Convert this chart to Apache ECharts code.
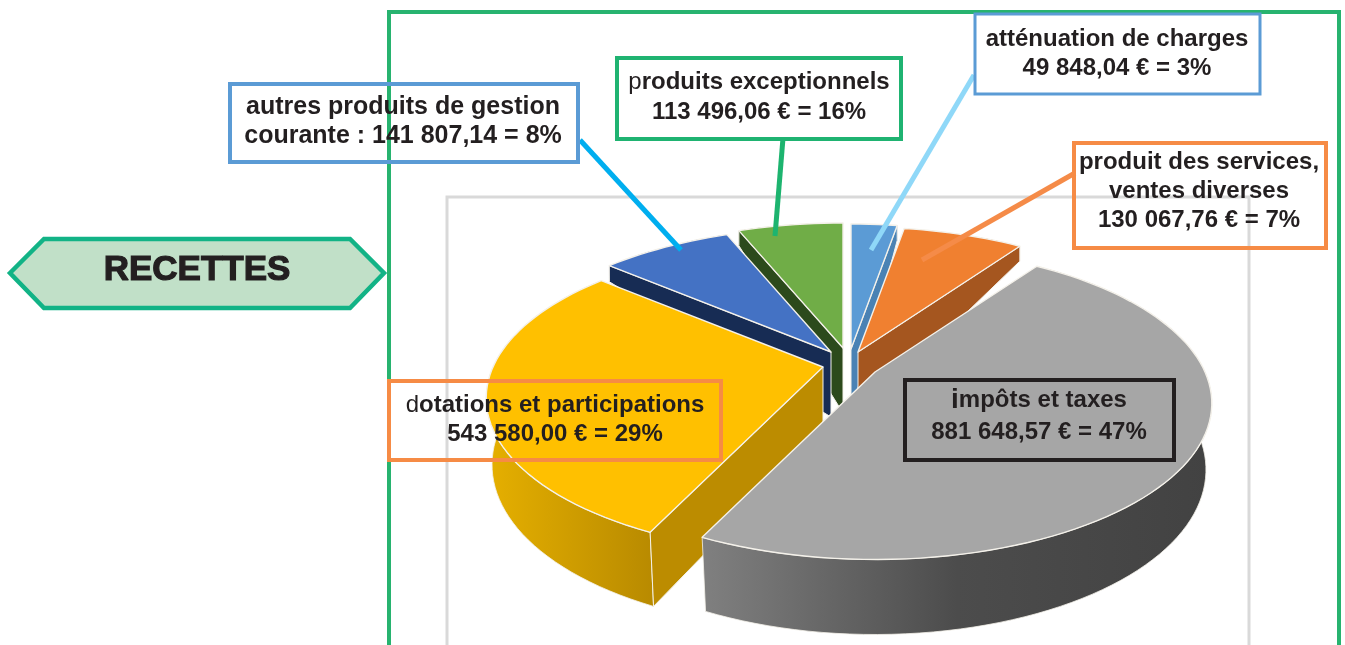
<!DOCTYPE html>
<html>
<head>
<meta charset="utf-8">
<title>Recettes</title>
<script src="https://cdn.jsdelivr.net/npm/echarts@6/dist/echarts.min.js"></script>
<style>
html, body { margin: 0; padding: 0; background: #fff; }
#chart { width: 1345px; height: 645px; }
</style>
</head>
<body>
<div id="chart"></div>
<script>
// data, clockwise from 12 o'clock
var categories = ['atténuation de charges', 'produit des services, ventes diverses', 'impôts et taxes', 'dotations et participations', 'autres produits de gestion courante', 'produits exceptionnels'];
var valeurs = [49848.04, 130067.76, 881648.57, 543580.00, 141807.14, 113496.06];
var montants = ['49 848,04 € = 3%', '130 067,76 € = 7%', '881 648,57 € = 47%', '543 580,00 € = 29%', '141 807,14 = 8%', '113 496,06 € = 16%'];

// look of each slice
var topColors = ['#5B9BD5', '#F08030', '#A6A6A6', '#FFC000', '#4472C4', '#70AD47'];
var cutColors = ['#4A82B4', '#A5561F', '#6E6E6E', '#BC8C00', '#172C54', '#2C4A1C'];
var rimColors = [
    [[0, '#4A82B4'], [1, '#4A82B4']],
    [[0, '#A5561F'], [1, '#A5561F']],
    [[0, '#808080'], [0.5, '#4C4C4C'], [1, '#424242']],
    [[0, '#E6B000'], [1, '#B88A00']],
    [[0, '#172C54'], [1, '#172C54']],
    [[0, '#2C4A1C'], [1, '#2C4A1C']]
];
// how far each slice is pulled out of the pie, in px
var pull = [[6, -6], [13, -3], [30, 17], [-22, 12], [-14, -3], [-2, -7]];

var center = [845, 355];
var radiusX = 330, radiusY = 150, persp = 0.2, wallTaper = 0.02;

var total = valeurs.reduce(function (a, b) { return a + b; }, 0);
var starts = [];
valeurs.reduce(function (acc, v, i) { starts[i] = acc / total * 360; return acc + v; }, 0);

function rad(d) { return d * Math.PI / 180; }
function planeV(deg) { return -Math.cos(rad(deg)); }
// wall height shrinks towards the back of the pie
function depth(v) {
    if (v >= 0) return 65 + 10 * v;
    return Math.max(15, 65 + 75 * v);
}
function rimPoint(apex, deg) {
    var u = Math.sin(rad(deg)), v = planeV(deg), w = 1 - persp * v;
    return [apex[0] + radiusX * u / w, apex[1] + radiusY * v / w];
}
// bottom edge of the wall under a rim point, narrower the taller the wall is
function wallPoint(apex, p, deg) {
    var h = depth(planeV(deg));
    var shrink = 1 - wallTaper * (h - 15) / 60;
    return [apex[0] + (p[0] - apex[0]) * shrink, p[1] + h];
}

var order = categories.map(function (c, i) { return i; }).sort(function (a, b) {
    var ma = starts[a] + valeurs[a] / total * 180, mb = starts[b] + valeurs[b] / total * 180;
    return planeV(ma) - planeV(mb);
});

function renderSlice(params, api) {
    var i = params.dataIndex;
    var sweep = api.value(0) / total * 360;
    var a0 = starts[i], a1 = a0 + sweep;
    var apex = [center[0] + pull[i][0], center[1] + pull[i][1]];
    var rim = [], wall = [], n = Math.max(4, Math.ceil(sweep / 2));
    for (var k = 0; k <= n; k++) {
        var d = a0 + sweep * k / n, p = rimPoint(apex, d);
        rim.push(p);
        wall.push(wallPoint(apex, p, d));
    }
    var z = order.indexOf(i) * 10;
    var children = [];

    // outer wall
    children.push({
        type: 'polygon', z2: z,
        shape: { points: rim.concat(wall.slice().reverse()) },
        style: {
            fill: new echarts.graphic.LinearGradient(0, 0, 1, 0, rimColors[i].map(function (s) {
                return { offset: s[0], color: s[1] };
            })),
            stroke: '#F4F1EA', lineWidth: 0.8
        }
    });
    // cut faces that turn towards the viewer
    var cutAngle = a0 > 180 ? a0 : (a1 < 180 ? a1 : null);
    if (cutAngle !== null) {
        var c = rimPoint(apex, cutAngle);
        children.push({
            type: 'polygon', z2: z + 1,
            shape: { points: [apex, c, wallPoint(apex, c, cutAngle), [apex[0], apex[1] + depth(0)]] },
            style: { fill: cutColors[i], stroke: '#F4F1EA', lineWidth: 1, lineJoin: 'round' }
        });
    }
    // top face
    children.push({
        type: 'polygon', z2: z + 2,
        shape: { points: [apex].concat(rim) },
        style: { fill: topColors[i], stroke: '#F4F1EA', lineWidth: 1.4, lineJoin: 'round' }
    });
    return { type: 'group', children: children };
}

var ink = '#231F20';
var font = '"Liberation Sans", Arial, sans-serif';

function frame(x0, y0, x1, y1, color, width, z) {
    return {
        type: 'rect', z: z, silent: true,
        shape: { x: x0, y: y0, width: x1 - x0, height: y1 - y0 },
        style: { fill: 'none', stroke: color, lineWidth: width }
    };
}
function leader(x0, y0, x1, y1, color) {
    return {
        type: 'line', z: 6, silent: true,
        shape: { x1: x0, y1: y0, x2: x1, y2: y1 },
        style: { stroke: color, lineWidth: 5 }
    };
}
function label(x, y, text, size) {
    var s = size || 24;
    return {
        type: 'text', z: 8, silent: true, x: x, y: y + 2,
        style: {
            text: text, align: 'center', verticalAlign: 'middle',
            fill: ink, font: 'bold ' + s + 'px ' + font,
            rich: {
                thin: { fill: ink, font: 'normal ' + s + 'px ' + font },
                big: { fill: ink, font: 'bold ' + (s + 4) + 'px ' + font },
                b: { fill: ink, font: 'bold ' + s + 'px ' + font }
            }
        }
    };
}

var option = {
    backgroundColor: '#FFFFFF',
    animation: false,
    graphic: [
        frame(447, 197, 1249, 720, '#D9D9D9', 3, 0),
        frame(389, 12, 1339, 720, '#27B36F', 4, 7),
        // RECETTES tag
        {
            type: 'polygon', z: 7, silent: true,
            shape: { points: [[10, 273], [44, 239], [350, 239], [384, 273], [350, 308], [44, 308]] },
            style: { fill: '#C1E0C8', stroke: '#12B386', lineWidth: 4.5 }
        },
        {
            type: 'text', z: 8, silent: true, x: 197, y: 270,
            style: {
                text: 'RECETTES', align: 'center', verticalAlign: 'middle',
                fill: ink, stroke: ink, lineWidth: 1.2,
                font: 'bold 35px ' + font
            }
        },
        leader(580, 140, 681, 250, '#00AEEF'),
        leader(783, 138, 775, 236, '#1DB46F'),
        leader(974, 75, 871, 250, '#8FD8F8'),
        leader(1075, 173, 922, 260, '#F58B48'),
        frame(230, 84, 578, 162, '#5B9BD5', 4, 7),
        frame(617, 58, 901, 139, '#1FB371', 4, 7),
        frame(975, 14, 1260, 94, '#5B9BD5', 3, 7),
        frame(1074, 143, 1326, 248, '#F68B45', 4, 7),
        frame(389, 381, 721, 460, '#F68B45', 4, 7),
        frame(905, 380, 1174, 460, ink, 4, 7),
        label(403, 105, 'autres produits de gestion', 25),
        label(403, 134, 'courante : ' + montants[4], 25),
        label(759, 80, '{thin|p}{b|roduits exceptionnels}'),
        label(759, 110, montants[5]),
        label(1117, 37, categories[0]),
        label(1117, 66, montants[0]),
        label(1199, 160, 'produit des services,'),
        label(1199, 189, 'ventes diverses'),
        label(1199, 218, montants[1]),
        label(555, 403, '{thin|d}{b|otations et participations}'),
        label(555, 432, montants[3]),
        label(1039, 398, '{big|i}{b|mpôts et taxes}'),
        label(1039, 430, montants[2])
    ],
    series: [{
        type: 'custom',
        coordinateSystem: 'none',
        silent: true,
        z: 3,
        data: valeurs.map(function (v, i) { return { name: categories[i], value: [v] }; }),
        renderItem: renderSlice
    }]
};

var myChart = echarts.init(document.getElementById('chart'));
myChart.setOption(option);
</script>
</body>
</html>
